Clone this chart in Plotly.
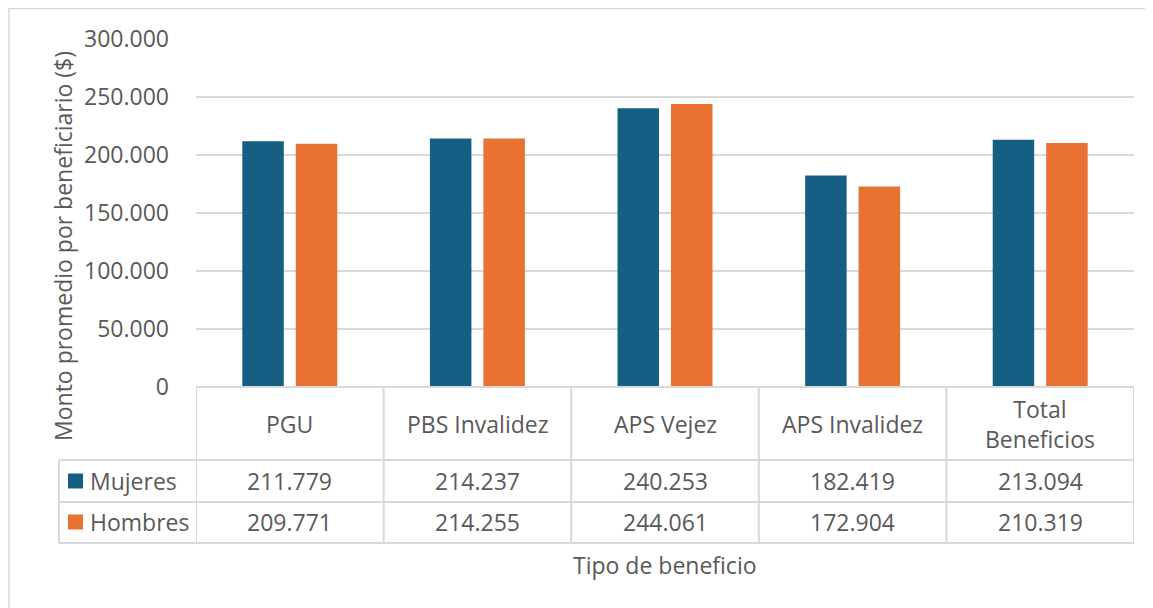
import plotly.graph_objects as go

# data
categorias = ["PGU", "PBS Invalidez", "APS Vejez", "APS Invalidez", "Total<br>Beneficios"]
mujeres = [211779, 214237, 240253, 182419, 213094]
hombres = [209771, 214255, 244061, 172904, 210319]
series = [("Mujeres", mujeres, "#156082"), ("Hombres", hombres, "#E97132")]
y_ticks = [0, 50000, 100000, 150000, 200000, 250000, 300000]

OFF = 8  # margen por defecto del body en la pagina
W, H = 1153 - OFF, 608 - OFF
L, R, T, B = 196 - OFF, 1134 - OFF, 39 - OFF, 387 - OFF
FONT = "Open Sans"
SIZE = 23
GRIS = "#595959"
LINEA = "#D9D9D9"


def px(x):
    return (x - OFF - L) / (R - L)


def py(y):
    return (B - (y - OFF)) / (B - T)


def miles(v):
    return f"{v:,}".replace(",", ".")


def texto(**kw):
    d = dict(showarrow=False, xanchor="center", yanchor="middle",
             font=dict(size=SIZE, color=GRIS, family=FONT))
    d.update(kw)
    return d


fig = go.Figure()
xs = list(range(len(categorias)))
for nombre, vals, color in series:
    fig.add_trace(go.Bar(name=nombre, x=xs, y=vals, marker_color=color,
                         marker_line_width=0, showlegend=False))

shapes = []
annotations = []

# marco exterior
shapes.append(dict(type="rect", xref="paper", yref="paper",
                   x0=px(9), x1=px(1170), y0=py(625), y1=py(8.5),
                   line=dict(color=LINEA, width=1.5), layer="below"))

# tabla de datos
row_lines = [460, 502, 543]
shapes.append(dict(type="line", xref="paper", yref="paper", x0=0, x1=1, y0=0, y1=0,
                   line=dict(color=LINEA, width=2)))
for yl in row_lines:
    shapes.append(dict(type="line", xref="paper", yref="paper", x0=px(59), x1=1,
                       y0=py(yl), y1=py(yl), line=dict(color=LINEA, width=2)))
shapes.append(dict(type="line", xref="paper", yref="paper", x0=px(59), x1=px(59),
                   y0=py(460), y1=py(543), line=dict(color=LINEA, width=2)))
for i in range(len(categorias) + 1):
    shapes.append(dict(type="line", xref="x", yref="paper", x0=i - 0.5, x1=i - 0.5,
                       y0=0, y1=py(543), line=dict(color=LINEA, width=2)))

for i, cat in enumerate(categorias):
    annotations.append(texto(x=i, y=py(424), xref="x", yref="paper", text=cat))

row_y = [481, 522]
for (nombre, vals, color), yc in zip(series, row_y):
    shapes.append(dict(type="rect", xref="paper", yref="paper",
                       x0=px(68), x1=px(83), y0=py(yc + 7.5), y1=py(yc - 7.5),
                       fillcolor=color, line=dict(width=0)))
    annotations.append(texto(x=px(88), y=py(yc), xref="paper", yref="paper",
                             text=nombre, xanchor="left"))
    for i, v in enumerate(vals):
        annotations.append(texto(x=i, y=py(yc), xref="x", yref="paper", text=miles(v)))

# titulos de ejes
annotations.append(texto(x=px(63), y=py(246), xref="paper", yref="paper",
                         text="Monto promedio por beneficiario ($)", textangle=-90))
annotations.append(texto(x=0.5, y=py(565), xref="paper", yref="paper",
                         text="Tipo de beneficio"))

fig.update_layout(
    width=W, height=H,
    margin=dict(l=L, r=W - R, t=T, b=H - B, pad=0),
    paper_bgcolor="white", plot_bgcolor="white",
    separators=",.",
    barmode="group", bargap=0.43, bargroupgap=0.224,
    font=dict(family=FONT, size=SIZE, color=GRIS),
    shapes=shapes, annotations=annotations,
    xaxis=dict(range=[-0.5, len(categorias) - 0.5], showticklabels=False,
               showgrid=False, zeroline=False, showline=False, ticks=""),
    yaxis=dict(range=[0, 300000], tickvals=y_ticks, tickformat=",d",
               showgrid=True, gridcolor=LINEA, gridwidth=2, zeroline=False,
               showline=False, ticks="", ticklabelstandoff=26,
               tickfont=dict(size=SIZE, color=GRIS, family=FONT)),
)

fig.write_html("out.html")
